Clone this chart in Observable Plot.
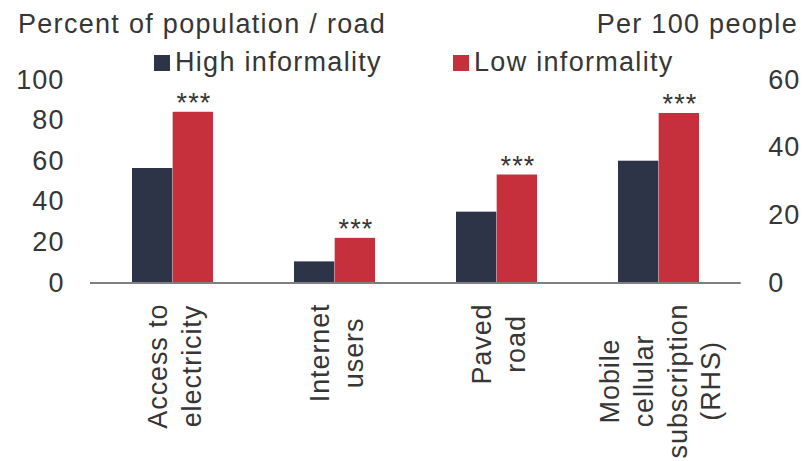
<!DOCTYPE html>
<html>
<head>
<meta charset="utf-8">
<script src="https://cdn.jsdelivr.net/npm/d3@7"></script>
<script src="https://cdn.jsdelivr.net/npm/@observablehq/plot@0.6"></script>
<style>
  html, body { margin: 0; padding: 0; background: #fff; }
  #wrap { position: relative; width: 805px; height: 461px; font-family: 'Liberation Sans', Arial, sans-serif; font-size: 27px; letter-spacing: 1.3px; color: #363636; }
  .lbl { position: absolute; white-space: nowrap; line-height: normal; }
  .sw { display: inline-block; width: 16px; height: 16px; margin-right: 5px; vertical-align: baseline; }
</style>
</head>
<body>
<div id="wrap">
  <div class="lbl" style="left:18px; top:8.5px;">Percent of population / road</div>
  <div class="lbl" style="right:7px; top:8.5px;">Per 100 people</div>
  <div class="lbl" id="leg1" style="left:154px; top:47px;"></div>
  <div class="lbl" id="leg2" style="left:453px; top:46.5px;"></div>
</div>
<script>
// ---- data ----
const categories = ["Access to\nelectricity", "Internet\nusers", "Paved\nroad", "Mobile\ncellular\nsubscription\n(RHS)"];
const highInformality = [56.4, 10.4, 34.9, 36.0];
const lowInformality = [84.1, 22.0, 53.2, 50.1];
const usesRightAxis = [false, false, false, true];
const significance = ["***", "***", "***", "***"];
const seriesNames = ["High informality", "Low informality"];
const seriesColors = ["#2d3448", "#c62f3c"];
const leftTicks = [0, 20, 40, 60, 80, 100];
const rightTicks = [0, 20, 40, 60];
const leftMax = 100;
const rightMax = 60;

// convert right-hand values into left-axis units
const toLeft = (v, rhs) => rhs ? v * leftMax / rightMax : v;

const rows = [];
categories.forEach((c, i) => {
  rows.push({cat: c, series: seriesNames[0], value: toLeft(highInformality[i], usesRightAxis[i]), sig: ""});
  rows.push({cat: c, series: seriesNames[1], value: toLeft(lowInformality[i], usesRightAxis[i]), sig: significance[i]});
});

const W = 805, H = 461;
const mL = 90, mR = 64.3, mT = 79.5, mB = 178.5;
const bandwidth = (W - mL - mR) / (categories.length - 0.5 + 0.5) * 0.5;
const half = bandwidth / 2;

const chart = Plot.plot({
  width: W,
  height: H,
  marginLeft: mL,
  marginRight: mR,
  marginTop: mT,
  marginBottom: mB,
  style: {fontFamily: "'Liberation Sans', Arial, sans-serif", fontSize: "27px", letterSpacing: "1.1px", color: "#363636", background: "transparent", overflow: "visible"},
  x: {domain: categories, paddingInner: 0.5, paddingOuter: 0.25, axis: null, label: null},
  y: {domain: [0, leftMax], axis: null, label: null},
  color: {domain: seriesNames, range: seriesColors},
  marks: [
    Plot.barY(rows.filter(d => d.series === seriesNames[0]), {x: "cat", y: "value", fill: "series", insetRight: half}),
    Plot.barY(rows.filter(d => d.series === seriesNames[1]), {x: "cat", y: "value", fill: "series", insetLeft: half}),
    Plot.ruleY([0], {stroke: "#7f7f7f", strokeWidth: 2}),
    Plot.text(rows.filter(d => d.sig), {x: "cat", y: "value", text: "sig", dx: half / 2 + 0.6, lineAnchor: "bottom", fill: "#363636"}),
    Plot.axisY(leftTicks, {anchor: "left", tickSize: 0, tickPadding: 26, label: null}),
    Plot.axisY(rightTicks.map(v => v * leftMax / rightMax), {anchor: "right", tickSize: 0, tickPadding: 27, label: null, tickFormat: d => String(Math.round(d * rightMax / leftMax))}),
    Plot.axisX(categories, {anchor: "bottom", tickSize: 0, tickPadding: 20.5, rotate: -90, textAnchor: "middle", lineAnchor: "middle", lineHeight: 1.25, label: null})
  ]
});

const wrap = document.getElementById("wrap");
chart.style.position = "absolute";
chart.style.left = "0px";
chart.style.top = "0px";
wrap.insertBefore(chart, wrap.firstChild);

// place each rotated category label so its longest line starts just under the axis
chart.querySelectorAll("text").forEach(t => {
  const tr = t.getAttribute("transform") || "";
  if (!/rotate/.test(tr)) return;
  t.style.letterSpacing = "0.9px";
  const spans = t.querySelectorAll("tspan");
  const lens = spans.length ? Array.from(spans, s => s.getComputedTextLength()) : [t.getComputedTextLength()];
  const m = d3.max(lens);
  t.setAttribute("transform", `translate(0,${m / 2}) ${tr}`);
});

// legend
[["leg1", 0], ["leg2", 1]].forEach(([id, i]) => {
  const el = document.getElementById(id);
  const sw = document.createElement("span");
  sw.className = "sw";
  sw.style.background = seriesColors[i];
  el.appendChild(sw);
  el.appendChild(document.createTextNode(seriesNames[i]));
});
</script>
</body>
</html>
